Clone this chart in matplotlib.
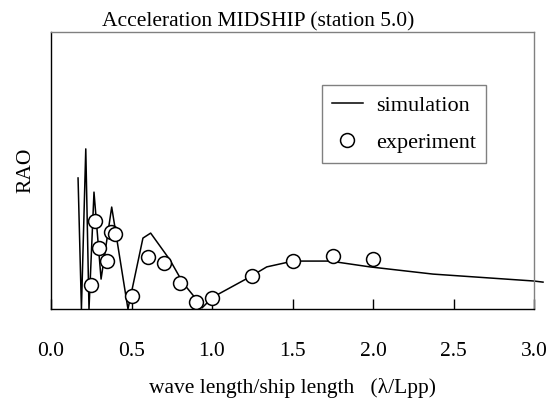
import matplotlib
matplotlib.use("Agg")
import matplotlib.pyplot as plt

plt.rcParams['font.family'] = ['Liberation Serif', 'DejaVu Serif']

# simulation curve (wave length / ship length, RAO)
sim_x = [0.168, 0.189, 0.216, 0.236, 0.267, 0.311, 0.377, 0.478, 0.571, 0.619,
         0.739, 0.820, 0.907, 0.938, 1.006, 1.236, 1.340, 1.503, 1.733, 1.981,
         2.373, 3.0, 3.056]
sim_y = [0.473, 0.0, 0.578, 0.0, 0.422, 0.108, 0.368, 0.0, 0.256, 0.274,
         0.177, 0.094, 0.032, 0.004, 0.043, 0.116, 0.152, 0.173, 0.173, 0.152,
         0.126, 0.101, 0.097]

# experiment points
exp_x = [0.25, 0.275, 0.3, 0.35, 0.375, 0.4, 0.5, 0.6, 0.7, 0.8, 0.9, 1.0,
         1.25, 1.5, 1.75, 2.0]
exp_y = [0.087, 0.319, 0.220, 0.173, 0.279, 0.271, 0.047, 0.187, 0.165, 0.093,
         0.026, 0.040, 0.120, 0.173, 0.192, 0.179]

xticks = [0.0, 0.5, 1.0, 1.5, 2.0, 2.5, 3.0]
fs = 15.5

fig = plt.figure(figsize=(5.58, 3.99), dpi=100, facecolor='w')
ax = fig.add_axes([51/558, 1 - 309/399, 483/558, 277/399])

ax.plot(sim_x, sim_y, color='black', lw=1.1, label='simulation', clip_on=False, zorder=2)
ax.plot(exp_x, exp_y, 'o', ms=10, mfc='white', mec='black', mew=1.1,
        label='experiment', zorder=3)

ax.set_xlim(0, 3.0)
ax.set_ylim(0, 1.0)
ax.set_xticks(xticks)
ax.set_xticklabels(['%.1f' % t for t in xticks], fontsize=fs)
ax.set_yticks([])
ax.tick_params(axis='x', direction='in', length=7, width=1.0, pad=24)

ax.set_xlabel('wave length/ship length   (λ/Lpp)', fontsize=fs, labelpad=12)
ax.set_ylabel('RAO', fontsize=fs, labelpad=11)
fig.text(258/558, 1 - 31/399, 'Acceleration MIDSHIP (station 5.0)', fontsize=fs,
         ha='center', va='bottom')

for spine in ('top', 'right'):
    ax.spines[spine].set_color('#808080')
for spine in ('left', 'bottom'):
    ax.spines[spine].set_color('black')
for spine in ax.spines.values():
    spine.set_linewidth(1.0)

legend = ax.legend(loc='upper right', bbox_to_anchor=((486 - 51)/483, (309 - 85)/277),
                   borderaxespad=0, fontsize=16, fancybox=False, framealpha=1,
                   edgecolor='#808080', handlelength=1.4, handletextpad=0.6,
                   labelspacing=0.75, borderpad=0.45)
legend.get_frame().set_linewidth(1.0)

fig.savefig('out.png', dpi=100)
